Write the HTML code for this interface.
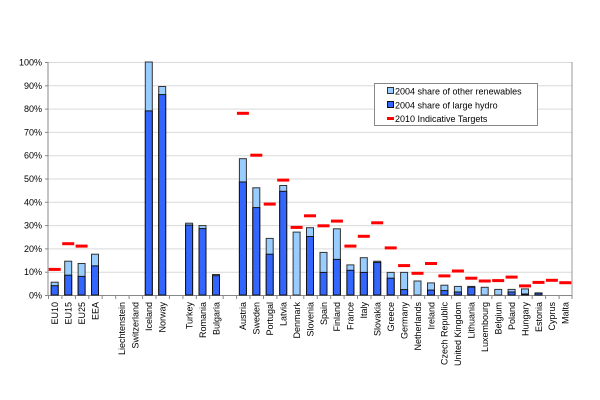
<!DOCTYPE html>
<html><head><meta charset="utf-8"><style>body{margin:0;background:#fff}svg{display:block}text{font-family:"Liberation Sans",sans-serif;font-size:9px;fill:#000}</style></head><body>
<svg width="600" height="400" xmlns="http://www.w3.org/2000/svg">
<g stroke="#d9d9d9" stroke-width="1">
<line x1="48" x2="572" y1="62.5" y2="62.5"/><line x1="48" x2="572" y1="85.8" y2="85.8"/><line x1="48" x2="572" y1="109.1" y2="109.1"/><line x1="48" x2="572" y1="132.4" y2="132.4"/><line x1="48" x2="572" y1="155.7" y2="155.7"/><line x1="48" x2="572" y1="179" y2="179"/><line x1="48" x2="572" y1="202.3" y2="202.3"/><line x1="48" x2="572" y1="225.6" y2="225.6"/><line x1="48" x2="572" y1="248.9" y2="248.9"/><line x1="48" x2="572" y1="272.2" y2="272.2"/>
</g>
<line x1="572" x2="572" y1="62" y2="295" stroke="#999"/>
<line x1="48" x2="48" y1="62" y2="295" stroke="#888"/>
<line x1="48" x2="572" y1="295.5" y2="295.5" stroke="#888"/>
<path stroke="#888" d="M48.5 295v4M61.9 295v4M75.4 295v4M88.8 295v4M102.2 295v4M115.7 295v4M129.1 295v4M142.6 295v4M156 295v4M169.4 295v4M182.9 295v4M196.3 295v4M209.7 295v4M223.2 295v4M236.6 295v4M250 295v4M263.5 295v4M276.9 295v4M290.4 295v4M303.8 295v4M317.2 295v4M330.7 295v4M344.1 295v4M357.5 295v4M371 295v4M384.4 295v4M397.8 295v4M411.3 295v4M424.7 295v4M438.2 295v4M451.6 295v4M465 295v4M478.5 295v4M491.9 295v4M505.3 295v4M518.8 295v4M532.2 295v4M545.6 295v4M559.1 295v4M572 295v4"/>
<g stroke="#888"><line x1="45" x2="48" y1="62.5" y2="62.5"/><line x1="45" x2="48" y1="85.8" y2="85.8"/><line x1="45" x2="48" y1="109.1" y2="109.1"/><line x1="45" x2="48" y1="132.4" y2="132.4"/><line x1="45" x2="48" y1="155.7" y2="155.7"/><line x1="45" x2="48" y1="179" y2="179"/><line x1="45" x2="48" y1="202.3" y2="202.3"/><line x1="45" x2="48" y1="225.6" y2="225.6"/><line x1="45" x2="48" y1="248.9" y2="248.9"/><line x1="45" x2="48" y1="272.2" y2="272.2"/><line x1="45" x2="48" y1="295.5" y2="295.5"/></g>
<g text-anchor="end">
<text x="42" y="65.5">100%</text><text x="42" y="88.8">90%</text><text x="42" y="112.1">80%</text><text x="42" y="135.4">70%</text><text x="42" y="158.7">60%</text><text x="42" y="182">50%</text><text x="42" y="205.3">40%</text><text x="42" y="228.6">30%</text><text x="42" y="251.9">20%</text><text x="42" y="275.2">10%</text><text x="42" y="298.5">0%</text>
</g>
<g fill="#99ccff" stroke="#333" stroke-width="1">
<rect x="51.2" y="282.2" width="7" height="12.8"/>
<rect x="64.7" y="261.2" width="7" height="33.8"/>
<rect x="78.1" y="263.5" width="7" height="31.5"/>
<rect x="91.5" y="254.2" width="7" height="40.8"/>
<rect x="145.3" y="62" width="7" height="233"/>
<rect x="158.7" y="86.5" width="7" height="208.5"/>
<rect x="185.6" y="223.2" width="7" height="71.8"/>
<rect x="199" y="225.6" width="7" height="69.4"/>
<rect x="212.5" y="274.5" width="7" height="20.5"/>
<rect x="239.4" y="158.7" width="7" height="136.3"/>
<rect x="252.8" y="187.8" width="7" height="107.2"/>
<rect x="266.2" y="238.4" width="7" height="56.6"/>
<rect x="279.7" y="185.5" width="7" height="109.5"/>
<rect x="293.1" y="232.1" width="7" height="62.9"/>
<rect x="306.5" y="227.7" width="7" height="67.3"/>
<rect x="320" y="252.4" width="7" height="42.6"/>
<rect x="333.4" y="228.8" width="7" height="66.2"/>
<rect x="346.9" y="264.9" width="7" height="30.1"/>
<rect x="360.3" y="257.7" width="7" height="37.3"/>
<rect x="373.7" y="261.2" width="7" height="33.8"/>
<rect x="387.2" y="272.4" width="7" height="22.6"/>
<rect x="400.6" y="272.4" width="7" height="22.6"/>
<rect x="414" y="281" width="7" height="14"/>
<rect x="427.5" y="282.9" width="7" height="12.1"/>
<rect x="440.9" y="285.2" width="7" height="9.8"/>
<rect x="454.4" y="286.4" width="7" height="8.6"/>
<rect x="467.8" y="286.4" width="7" height="8.6"/>
<rect x="481.2" y="287.3" width="7" height="7.7"/>
<rect x="494.7" y="289.4" width="7" height="5.6"/>
<rect x="508.1" y="289.4" width="7" height="5.6"/>
<rect x="521.5" y="288.9" width="7" height="6.1"/>
<rect x="535" y="292.9" width="7" height="2.1"/>
</g>
<g fill="#3366ff" stroke="#111" stroke-width="1">
<rect x="51.2" y="285.7" width="7" height="9.3"/>
<rect x="64.7" y="275.2" width="7" height="19.8"/>
<rect x="78.1" y="276.4" width="7" height="18.6"/>
<rect x="91.5" y="265.9" width="7" height="29.1"/>
<rect x="145.3" y="110.9" width="7" height="184.1"/>
<rect x="158.7" y="94.6" width="7" height="200.4"/>
<rect x="185.6" y="225.1" width="7" height="69.9"/>
<rect x="199" y="228.6" width="7" height="66.4"/>
<rect x="212.5" y="275.7" width="7" height="19.3"/>
<rect x="239.4" y="182" width="7" height="113"/>
<rect x="252.8" y="207.6" width="7" height="87.4"/>
<rect x="266.2" y="254.2" width="7" height="40.8"/>
<rect x="279.7" y="191.3" width="7" height="103.7"/>
<rect x="306.5" y="236.5" width="7" height="58.5"/>
<rect x="320" y="272.4" width="7" height="22.6"/>
<rect x="333.4" y="259.4" width="7" height="35.6"/>
<rect x="346.9" y="270.3" width="7" height="24.7"/>
<rect x="360.3" y="272.4" width="7" height="22.6"/>
<rect x="373.7" y="262.4" width="7" height="32.6"/>
<rect x="387.2" y="278.2" width="7" height="16.8"/>
<rect x="400.6" y="289.6" width="7" height="5.4"/>
<rect x="427.5" y="290.1" width="7" height="4.9"/>
<rect x="440.9" y="290.6" width="7" height="4.4"/>
<rect x="454.4" y="292" width="7" height="3"/>
<rect x="467.8" y="287.1" width="7" height="7.9"/>
<rect x="508.1" y="292" width="7" height="3"/>
<rect x="521.5" y="294" width="7" height="1"/>
<rect x="535" y="293.1" width="7" height="1.9"/>
</g>
<g fill="#ff0000">
<rect x="48.7" y="267.9" width="12" height="3"/>
<rect x="62.2" y="242.2" width="12" height="3"/>
<rect x="75.6" y="244.6" width="12" height="3"/>
<rect x="236.9" y="111.8" width="12" height="3"/>
<rect x="250.3" y="153.7" width="12" height="3"/>
<rect x="263.7" y="202.6" width="12" height="3"/>
<rect x="277.2" y="178.6" width="12" height="3"/>
<rect x="290.6" y="225.9" width="12" height="3"/>
<rect x="304" y="214.3" width="12" height="3"/>
<rect x="317.5" y="224.3" width="12" height="3"/>
<rect x="330.9" y="219.6" width="12" height="3"/>
<rect x="344.4" y="244.6" width="12" height="3"/>
<rect x="357.8" y="234.8" width="12" height="3"/>
<rect x="371.2" y="221.3" width="12" height="3"/>
<rect x="384.7" y="246.4" width="12" height="3"/>
<rect x="398.1" y="264.1" width="12" height="3"/>
<rect x="411.5" y="271.8" width="12" height="3"/>
<rect x="425" y="262" width="12" height="3"/>
<rect x="438.4" y="274.4" width="12" height="3"/>
<rect x="451.9" y="269.5" width="12" height="3"/>
<rect x="465.3" y="276.7" width="12" height="3"/>
<rect x="478.7" y="279.5" width="12" height="3"/>
<rect x="492.2" y="279.1" width="12" height="3"/>
<rect x="505.6" y="275.6" width="12" height="3"/>
<rect x="519" y="284.4" width="12" height="3"/>
<rect x="532.5" y="280.9" width="12" height="3"/>
<rect x="545.9" y="278.8" width="12" height="3"/>
<rect x="559.3" y="281.2" width="12" height="3"/>
</g>
<g text-anchor="end">
<text transform="translate(58,302) rotate(-90)">EU10</text>
<text transform="translate(71.5,302) rotate(-90)">EU15</text>
<text transform="translate(84.9,302) rotate(-90)">EU25</text>
<text transform="translate(98.3,302) rotate(-90)">EEA</text>
<text transform="translate(125.2,302) rotate(-90)">Liechtenstein</text>
<text transform="translate(138.7,302) rotate(-90)">Switzerland</text>
<text transform="translate(152.1,302) rotate(-90)">Iceland</text>
<text transform="translate(165.5,302) rotate(-90)">Norway</text>
<text transform="translate(192.4,302) rotate(-90)">Turkey</text>
<text transform="translate(205.8,302) rotate(-90)">Romania</text>
<text transform="translate(219.3,302) rotate(-90)">Bulgaria</text>
<text transform="translate(246.2,302) rotate(-90)">Austria</text>
<text transform="translate(259.6,302) rotate(-90)">Sweden</text>
<text transform="translate(273,302) rotate(-90)">Portugal</text>
<text transform="translate(286.5,302) rotate(-90)">Latvia</text>
<text transform="translate(299.9,302) rotate(-90)">Denmark</text>
<text transform="translate(313.3,302) rotate(-90)">Slovenia</text>
<text transform="translate(326.8,302) rotate(-90)">Spain</text>
<text transform="translate(340.2,302) rotate(-90)">Finland</text>
<text transform="translate(353.7,302) rotate(-90)">France</text>
<text transform="translate(367.1,302) rotate(-90)">Italy</text>
<text transform="translate(380.5,302) rotate(-90)">Slovakia</text>
<text transform="translate(394,302) rotate(-90)">Greece</text>
<text transform="translate(407.4,302) rotate(-90)">Germany</text>
<text transform="translate(420.8,302) rotate(-90)">Netherlands</text>
<text transform="translate(434.3,302) rotate(-90)">Ireland</text>
<text transform="translate(447.7,302) rotate(-90)">Czech Republic</text>
<text transform="translate(461.2,302) rotate(-90)">United Kingdom</text>
<text transform="translate(474.6,302) rotate(-90)">Lithuania</text>
<text transform="translate(488,302) rotate(-90)">Luxembourg</text>
<text transform="translate(501.5,302) rotate(-90)">Belgium</text>
<text transform="translate(514.9,302) rotate(-90)">Poland</text>
<text transform="translate(528.3,302) rotate(-90)">Hungary</text>
<text transform="translate(541.8,302) rotate(-90)">Estonia</text>
<text transform="translate(555.2,302) rotate(-90)">Cyprus</text>
<text transform="translate(568.6,302) rotate(-90)">Malta</text>
</g>
<rect x="374.5" y="83.5" width="163" height="42" fill="#fff" stroke="#888"/>
<rect x="387.5" y="87.5" width="6" height="6" fill="#99ccff" stroke="#333"/>
<text x="395" y="94.5">2004 share of other renewables</text>
<rect x="387.5" y="101.5" width="6" height="6" fill="#3366ff" stroke="#111"/>
<text x="395" y="108.5">2004 share of large hydro</text>
<rect x="387" y="117" width="7" height="3" fill="#ff0000"/>
<text x="395" y="122">2010 Indicative Targets</text>
</svg>
</body></html>
